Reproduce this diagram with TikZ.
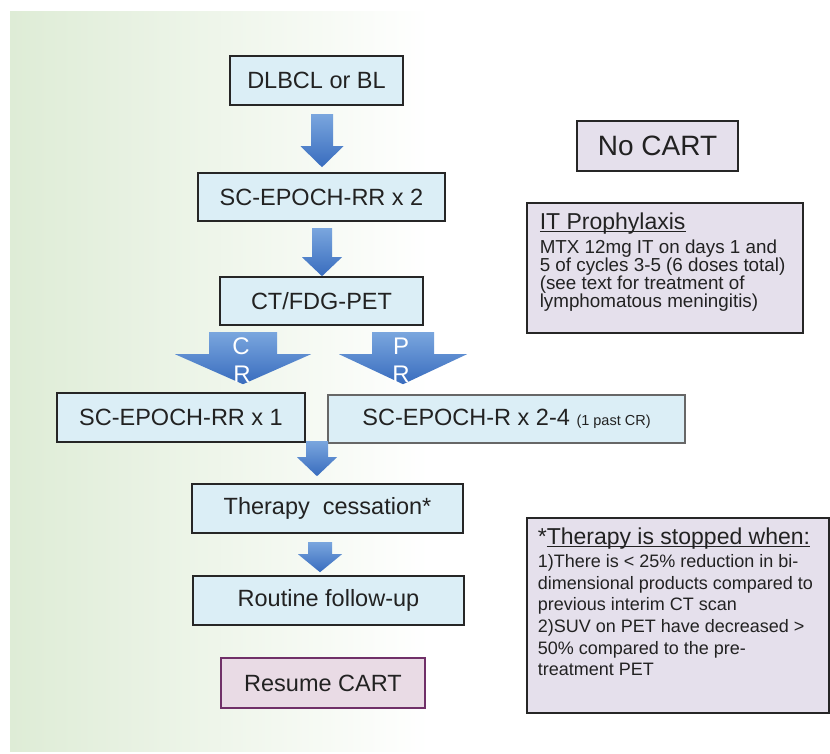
\documentclass[tikz,border=0pt]{standalone}
\usepackage{fontspec}
\setmainfont{Liberation Sans}
\usetikzlibrary{calc}

\definecolor{bggreen}{RGB}{222,236,214}
\definecolor{bluefill}{RGB}{219,238,246}
\definecolor{lilacfill}{RGB}{229,224,236}
\definecolor{boxline}{RGB}{38,38,38}
\definecolor{resumeline}{RGB}{112,48,104}
\definecolor{textgrey}{RGB}{34,34,34}
\definecolor{arrowlight}{RGB}{122,166,222}
\definecolor{arrowdark}{RGB}{56,108,190}

% block arrow: top point, tip point, half shaft, half head, head length
\newcommand{\blockarrow}[5]{%
	\path[blockarrow] let \p1=(#1), \p2=(#2) in
	(\x1-#3pt,\y1) -- (\x1+#3pt,\y1) -- (\x1+#3pt,\y2+#5pt) -- (\x1+#4pt,\y2+#5pt)
	-- (\x1,\y2) -- (\x1-#4pt,\y2+#5pt) -- (\x1-#3pt,\y2+#5pt) -- cycle;}
% underline close to the baseline
\newcommand{\undertext}[1]{\leavevmode\setbox0\hbox{#1}\rlap{\rule[-2.4pt]{\wd0}{1.1pt}}\box0}

\begin{document}
\begin{tikzpicture}[x=1pt,y=-1pt]

	\tikzset{
		bluebox/.style={draw=boxline, line width=1.6pt, fill=bluefill, text=textgrey,
			inner sep=0pt, font=\fontsize{23.5}{26}\selectfont},
		lilacbox/.style={draw=boxline, line width=1.6pt, fill=lilacfill, text=textgrey,
			inner sep=0pt},
		blockarrow/.style={top color=arrowlight, bottom color=arrowdark},
		armlabel/.style={text=white, inner sep=0pt, font=\fontsize{24}{24}\selectfont}
	}

	% background
	\useasboundingbox (0,0) rectangle (830,753);
	\fill[white] (0,0) rectangle (830,753);
	\shade[left color=bggreen, middle color=bggreen!55!white, right color=white]
		(10,11) rectangle (430,751);

	% main column
	\node[bluebox, minimum width=173pt, minimum height=49pt] (dlbcl) at (316.5,80.5) {DLBCL or BL};
	\node[bluebox, minimum width=247pt, minimum height=48pt] (epoch2) at (321.5,197) {SC-EPOCH-RR x 2};
	\node[bluebox, minimum width=203pt, minimum height=48pt] (ctpet) at (321.5,301) {CT/FDG-PET};
	\node[bluebox, minimum width=248pt, minimum height=49pt] (epoch1) at (181,417.5) {SC-EPOCH-RR x 1};
	\node[bluebox, draw=boxline!70, minimum width=357pt, minimum height=48pt] (epochR) at (506.5,419)
		{SC-EPOCH-R x 2-4 {\fontsize{14.5}{16}\selectfont (1 past CR)}};
	\node[bluebox, minimum width=271pt, minimum height=49pt] (cessation) at (327.5,508.5) {Therapy \ cessation*};
	\node[bluebox, minimum width=271pt, minimum height=49pt] (followup) at (328.5,600.5) {Routine follow-up};
	\node[lilacbox, draw=resumeline, fill=lilacfill!85!pink, minimum width=204pt, minimum height=50pt,
		font=\fontsize{23.5}{26}\selectfont] (resume) at (323,683) {Resume CART};

	% side notes
	\node[lilacbox, minimum width=161pt, minimum height=50pt, font=\fontsize{28}{30}\selectfont]
		(nocart) at (657.5,146) {No CART};
	\node[lilacbox, anchor=north west, inner xsep=13pt, inner ysep=10pt] (itproph) at (526,202)
		{\parbox[c][110pt][t]{250pt}{\raggedright
			{\fontsize{23}{23}\selectfont \undertext{IT Prophylaxis}\par}
			\vspace{4.5pt}
			{\fontsize{18.8}{18}\selectfont MTX 12mg IT on days 1 and\\
			5 of cycles 3-5 (6 doses total)\\
			(see text for treatment of\\
			lymphomatous meningitis)\par}}};
	\node[lilacbox, anchor=north west, inner xsep=11pt, inner ysep=10pt] (stopped) at (526,517)
		{\parbox[c][175pt][t]{280pt}{\raggedright
			{\fontsize{23}{23}\selectfont *\undertext{Therapy is stopped when:}\par}
			\vspace{1.3pt}
			{\fontsize{18}{21.7}\selectfont 1)There is < 25\% reduction in bi-\\
			dimensional products compared to\\
			previous interim CT scan\\
			2)SUV on PET have decreased >\\
			50\% compared to the pre-\\
			treatment PET\par}}};

	% arrow tops
	\coordinate (a1) at (322,114);
	\coordinate (a2) at (322,228);
	\coordinate (acr) at (243,332);
	\coordinate (apr) at (403,332);
	\coordinate (a3) at (317,441);
	\coordinate (a4) at (320,542);

	\blockarrow{a1}{$(epoch2.north)+(0,-5)$}{11}{21.5}{21}
	\blockarrow{a2}{ctpet.north}{10}{20}{19}
	\blockarrow{acr}{$(epoch1.north)+(0,-8)$}{34}{68}{30}
	\blockarrow{apr}{$(epochR.north)+(0,-10)$}{31}{64}{30}
	\blockarrow{a3}{$(cessation.north)+(0,-7)$}{11}{20}{19}
	\blockarrow{a4}{$(followup.north)+(0,-3)$}{12}{22}{18}

	% response labels
	\node[armlabel] (crC) at (241,346) {C};
	\node[armlabel] (crR) at (242,374) {R};
	\node[armlabel] (prP) at (401,346) {P};
	\node[armlabel] (prR) at (401,374) {R};
\end{tikzpicture}
\end{document}
